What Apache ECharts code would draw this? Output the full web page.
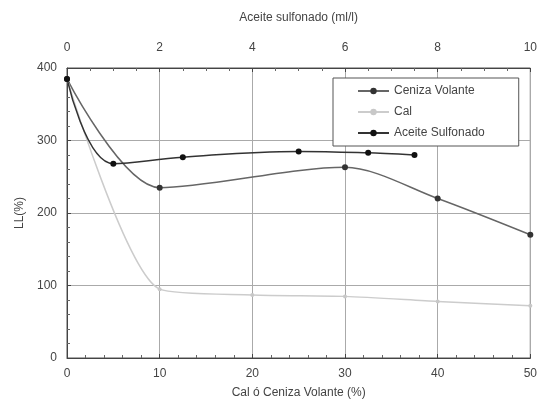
<!DOCTYPE html>
<html>
<head>
<meta charset="utf-8">
<script src="https://cdn.jsdelivr.net/npm/echarts@6/dist/echarts.min.js"></script>
<style>html,body{margin:0;padding:0;background:#fff}#chart{width:540px;height:404px}</style>
</head>
<body>
<div id="chart"></div>
<script>
// datos
var cenizaX = [0, 10, 30, 40, 50];
var cenizaY = [385, 235, 263, 220, 170];
var calX = [0, 10, 20, 30, 40, 50];
var calY = [385, 95, 87, 85, 78, 72];
var aceiteX = [0, 1, 2.5, 5, 6.5, 7.5];
var aceiteY = [385, 268, 277, 285, 283, 280];

function pares(xs, ys) {
  return xs.map(function (x, i) { return [x, ys[i]]; });
}

var txt = '#444';
var font = 'Liberation Sans';

var chart = echarts.init(document.getElementById('chart'), null, { renderer: 'canvas' });

chart.setOption({
  animation: false,
  textStyle: { fontFamily: font, color: txt },
  grid: { left: 67, right: 5, top: 68, bottom: 46, show: true, borderColor: '#555', borderWidth: 1 },
  legend: {
    orient: 'vertical',
    left: 333, top: 78,
    padding: [6, 34, 6, 24],
    itemGap: 7,
    itemWidth: 31,
    itemHeight: 8,
    backgroundColor: '#fff',
    borderColor: '#555',
    borderWidth: 1,
    textStyle: { fontSize: 12, color: txt, fontFamily: font, lineHeight: 14 },
    data: ['Ceniza Volante', 'Cal', 'Aceite Sulfonado']
  },
  xAxis: [{
    type: 'value', position: 'bottom', min: 0, max: 50, interval: 10,
    name: 'Cal ó Ceniza Volante (%)', nameLocation: 'middle', nameGap: 29,
    nameTextStyle: { fontSize: 12, color: txt },
    axisLine: { lineStyle: { color: '#444' } },
    axisTick: { inside: true, length: 4, lineStyle: { color: '#444' } },
    minorTick: { show: true, splitNumber: 5, length: 3, lineStyle: { color: '#666' } },
    axisLabel: { fontSize: 12, color: txt, margin: 10 },
    splitLine: { show: true, lineStyle: { color: '#aaa' } }
  }, {
    type: 'value', position: 'top', min: 0, max: 10, interval: 2,
    name: 'Aceite sulfonado (ml/l)', nameLocation: 'middle', nameGap: 44,
    nameTextStyle: { fontSize: 12, color: txt },
    axisLine: { lineStyle: { color: '#444' } },
    axisTick: { inside: true, length: 4, lineStyle: { color: '#444' } },
    minorTick: { show: true, splitNumber: 4, length: 3, lineStyle: { color: '#666' } },
    axisLabel: { fontSize: 12, color: txt, margin: 14 },
    splitLine: { show: false }
  }],
  yAxis: {
    type: 'value', min: 0, max: 400, interval: 100,
    name: 'LL(%)', nameLocation: 'middle', nameGap: 34,
    nameTextStyle: { fontSize: 12, color: txt },
    axisLine: { show: true, lineStyle: { color: '#444' } },
    axisTick: { show: true, inside: true, length: 4, lineStyle: { color: '#444' } },
    minorTick: { show: true, splitNumber: 5, length: 3, lineStyle: { color: '#666' } },
    axisLabel: { fontSize: 12, color: txt, margin: 10 },
    splitLine: { show: true, lineStyle: { color: '#aaa' } }
  },
  series: [{
    name: 'Ceniza Volante', type: 'line', xAxisIndex: 0,
    data: pares(cenizaX, cenizaY), smooth: 0.3,
    symbol: 'circle', symbolSize: 6,
    lineStyle: { color: '#666', width: 1.5 },
    itemStyle: { color: '#333' }
  }, {
    name: 'Cal', type: 'line', xAxisIndex: 0,
    data: pares(calX, calY), smooth: 0.25,
    symbol: 'circle', symbolSize: 4,
    lineStyle: { color: '#ccc', width: 1.5 },
    itemStyle: { color: '#c8c8c8' }
  }, {
    name: 'Aceite Sulfonado', type: 'line', xAxisIndex: 1,
    data: pares(aceiteX, aceiteY), smooth: 0.4,
    symbol: 'circle', symbolSize: 6,
    lineStyle: { color: '#333', width: 1.5 },
    itemStyle: { color: '#111' }
  }]
});
</script>
</body>
</html>
